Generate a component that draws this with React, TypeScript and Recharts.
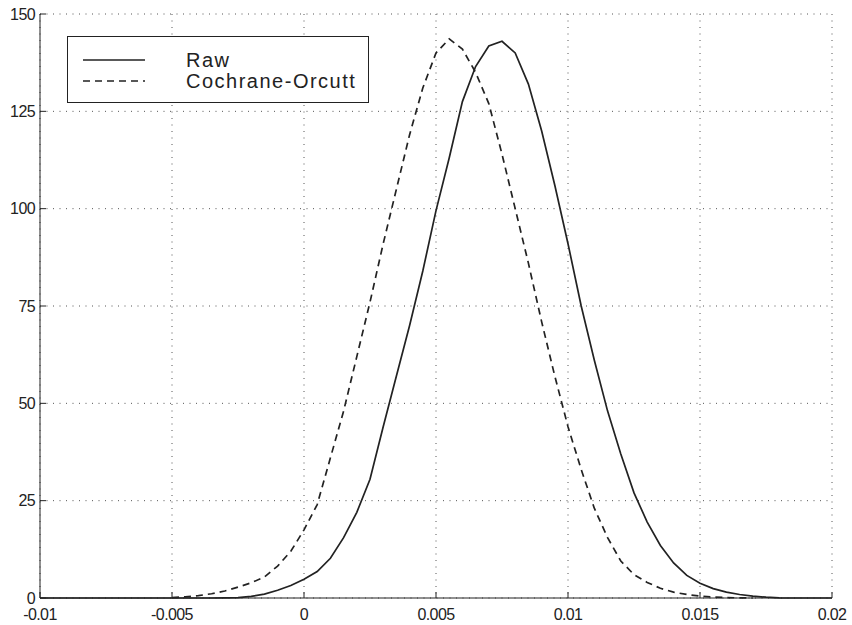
import { LineChart, Line, XAxis, YAxis, CartesianGrid } from "recharts";

// x grid shared by both densities
const XS = [
  -0.01, -0.0095, -0.009, -0.0085, -0.008, -0.0075, -0.007, -0.0065, -0.006, -0.0055,
  -0.005, -0.0045, -0.004, -0.0035, -0.003, -0.0025, -0.002, -0.0015, -0.001, -0.0005,
  0, 0.0005, 0.001, 0.0015, 0.002, 0.0025, 0.003, 0.0035, 0.004, 0.0045,
  0.005, 0.0055, 0.006, 0.0065, 0.007, 0.0075, 0.008, 0.0085, 0.009, 0.0095,
  0.01, 0.0105, 0.011, 0.0115, 0.012, 0.0125, 0.013, 0.0135, 0.014, 0.0145,
  0.015, 0.0155, 0.016, 0.0165, 0.017, 0.0175, 0.018, 0.0185, 0.019, 0.0195,
  0.02,
];

const RAW = [
  0, 0, 0, 0, 0, 0, 0, 0, 0, 0,
  0, 0, 0, 0, 0.05, 0.1, 0.4, 1.0, 2.0, 3.2,
  4.8, 6.8, 10.2, 15.5, 22, 30.5, 44, 57, 70, 84,
  99.5, 113, 127.5, 136.5, 141.8, 143, 140, 132, 120, 106,
  91, 75, 61, 48, 37, 27, 19.5, 13.5, 9, 5.8,
  3.8, 2.4, 1.5, 0.9, 0.5, 0.2, 0.05, 0, 0, 0,
  0,
];

const COCHRANE = [
  null, null, null, null, null, null, null, null, null, null,
  0.1, 0.3, 0.6, 1.1, 1.8, 2.8, 3.9, 5.4, 8.2, 12,
  17.5, 24, 36, 48, 62, 76, 91, 105, 119, 131,
  140, 143.6, 141, 135, 127, 114, 100, 86, 71, 57,
  44, 33, 23, 15.5, 9.5, 6, 4, 2.5, 1.5, 0.9,
  0.5, 0.25, 0.1, 0.05, 0, null, null, null, null, null,
  null,
];

const X_TICKS = [-0.01, -0.005, 0, 0.005, 0.01, 0.015, 0.02];
const Y_TICKS = [0, 25, 50, 75, 100, 125, 150];

const SERIES = [
  { key: "raw", name: "Raw", dash: undefined as string | undefined },
  { key: "co", name: "Cochrane-Orcutt", dash: "7 5" },
];

const data = XS.map((x, i) => ({ x, raw: RAW[i], co: COCHRANE[i] }));

const INK = "#222";
const FONT = "'Liberation Sans', Arial, sans-serif";

const BottomTick = ({ x, y, payload }: any) => (
  <g>
    <line x1={x} x2={x} y1={y} y2={y - 6} stroke={INK} />
    <text x={x} y={y + 22} textAnchor="middle" fontSize={16} letterSpacing={-0.6} fill={INK} fontFamily={FONT}>
      {String(payload.value)}
    </text>
  </g>
);

const LeftTick = ({ x, y, payload }: any) => (
  <g>
    <line x1={x} x2={x + 6} y1={y} y2={y} stroke={INK} />
    <text x={x - 5} y={y + 5.5} textAnchor="end" fontSize={16} letterSpacing={-0.6} fill={INK} fontFamily={FONT}>
      {String(payload.value)}
    </text>
  </g>
);

const TopTick = ({ x, y }: any) => <line x1={x} x2={x} y1={y} y2={y + 6} stroke={INK} />;
const RightTick = ({ x, y }: any) => <line x1={x} x2={x - 6} y1={y} y2={y} stroke={INK} />;

const LegendBox = () => (
  <svg width={302} height={67} style={{ position: "absolute", left: 67, top: 36 }}>
    <rect x={0.5} y={0.5} width={301} height={66} fill="#fff" stroke={INK} />
    {SERIES.map((s, i) => (
      <g key={s.key}>
        <line x1={16} x2={78} y1={24 + i * 21} y2={24 + i * 21} stroke={INK} strokeWidth={1.3} strokeDasharray={s.dash} />
        <text x={119} y={24 + i * 21 + 7} fontSize={20} letterSpacing={1.5} fill={INK} fontFamily={FONT}>
          {s.name}
        </text>
      </g>
    ))}
  </svg>
);

export default function App() {
  return (
    <div style={{ position: "relative", width: 852, height: 625, background: "#fff" }}>
      <style>{"body{margin:0}"}</style>
      <LineChart width={852} height={625} data={data} margin={{ top: 14, right: 20, left: 0, bottom: 0 }}>
        <CartesianGrid stroke="#555" strokeDasharray="1 5.5" />
        <XAxis
          dataKey="x"
          type="number"
          domain={[-0.01, 0.02]}
          ticks={X_TICKS}
          height={27}
          tickSize={0}
          tickMargin={0}
          tickLine={false}
          tick={<BottomTick />}
          axisLine={{ stroke: INK }}
          interval={0}
        />
        <XAxis
          xAxisId="top"
          dataKey="x"
          type="number"
          orientation="top"
          domain={[-0.01, 0.02]}
          ticks={X_TICKS}
          height={0}
          tickSize={0}
          tickMargin={0}
          tickLine={false}
          tick={<TopTick />}
          axisLine={{ stroke: INK }}
          interval={0}
        />
        <YAxis
          type="number"
          domain={[0, 150]}
          ticks={Y_TICKS}
          width={40}
          tickSize={0}
          tickMargin={0}
          tickLine={false}
          tick={<LeftTick />}
          axisLine={{ stroke: INK }}
          interval={0}
        />
        <YAxis
          yAxisId="right"
          orientation="right"
          type="number"
          domain={[0, 150]}
          ticks={Y_TICKS}
          width={0}
          tickSize={0}
          tickMargin={0}
          tickLine={false}
          tick={<RightTick />}
          axisLine={{ stroke: INK }}
          interval={0}
        />
        {SERIES.map((s) => (
          <Line
            key={s.key}
            type="linear"
            dataKey={s.key}
            name={s.name}
            stroke={INK}
            strokeWidth={1.7}
            strokeDasharray={s.dash}
            dot={false}
            activeDot={false}
            connectNulls={false}
            isAnimationActive={false}
          />
        ))}
      </LineChart>
      <LegendBox />
    </div>
  );
}
